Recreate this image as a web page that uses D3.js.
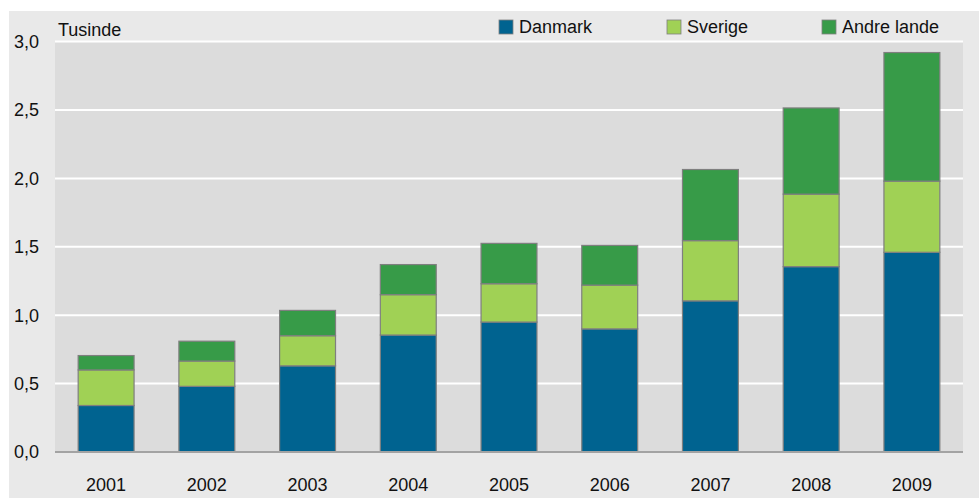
<!DOCTYPE html>
<html>
<head>
<meta charset="utf-8">
<script src="https://cdn.jsdelivr.net/npm/d3@7"></script>
<style>
  body { margin: 0; background: #fff; }
  text { font-family: "Liberation Sans", Arial, sans-serif; fill: #111; }
</style>
</head>
<body>
<svg width="979" height="498"></svg>
<script>
// data (tusinde)
var years = ['2001', '2002', '2003', '2004', '2005', '2006', '2007', '2008', '2009'];
var danmark = [0.34, 0.48, 0.63, 0.855, 0.95, 0.90, 1.105, 1.355, 1.46];
var sverige = [0.26, 0.185, 0.22, 0.295, 0.28, 0.32, 0.44, 0.53, 0.52];
var andre = [0.105, 0.145, 0.185, 0.22, 0.295, 0.29, 0.52, 0.63, 0.94];
var seriesNames = ['Danmark', 'Sverige', 'Andre lande'];
var colors = ['#006390', '#a0d155', '#379b48'];
var yTicks = [0, 0.5, 1, 1.5, 2, 2.5, 3];

function main() {
	var svg = d3.select('svg');

	var left = 55, right = 963, top = 41.6, bottom = 452;

	// outer panel
	svg.append('rect')
		.attr('x', 9).attr('y', 11)
		.attr('width', 970).attr('height', 487)
		.attr('fill', '#e9e9e9');

	// plot panel
	svg.append('rect')
		.attr('x', left).attr('y', top)
		.attr('width', right - left).attr('height', bottom - top)
		.attr('fill', '#dcdcdc');

	var x = d3.scaleBand().domain(years).range([left, right]).paddingInner(0.445).paddingOuter(0.23);
	var y = d3.scaleLinear().domain([0, 3]).range([bottom, top]);

	// gridlines
	svg.append('g').selectAll('line')
		.data(yTicks.filter(function(d){ return d > 0; }))
		.enter().append('line')
		.attr('x1', left).attr('x2', right)
		.attr('y1', function(d){ return y(d); })
		.attr('y2', function(d){ return y(d); })
		.attr('stroke', '#fff')
		.attr('stroke-width', 2);

	// y labels
	svg.append('g').selectAll('text')
		.data(yTicks)
		.enter().append('text')
		.attr('x', 39)
		.attr('y', function(d){ return y(d); })
		.attr('dy', '0.36em')
		.attr('text-anchor', 'end')
		.style('font-size', '18px')
		.text(function(d){ return d3.format('.1f')(d).replace('.', ','); });

	// stacked bars
	var rows = years.map(function(yr, i){
		return { year: yr, Danmark: danmark[i], Sverige: sverige[i], 'Andre lande': andre[i] };
	});
	var stack = d3.stack().keys(seriesNames)(rows);

	svg.append('g').selectAll('g')
		.data(stack)
		.enter().append('g')
		.attr('fill', function(d, i){ return colors[i]; })
		.selectAll('rect')
		.data(function(d){ return d; })
		.enter().append('rect')
		.attr('x', function(d){ return x(d.data.year); })
		.attr('width', x.bandwidth())
		.attr('y', function(d){ return y(d[1]); })
		.attr('height', function(d){ return y(d[0]) - y(d[1]); })
		.attr('stroke', '#7f7f7f')
		.attr('stroke-width', 1.2);

	// baseline
	svg.append('line')
		.attr('x1', left).attr('x2', right)
		.attr('y1', bottom).attr('y2', bottom)
		.attr('stroke', '#a3a3a3')
		.attr('stroke-width', 2);

	// x labels
	svg.append('g').selectAll('text')
		.data(years)
		.enter().append('text')
		.attr('x', function(d){ return x(d) + x.bandwidth() / 2; })
		.attr('y', 491)
		.attr('text-anchor', 'middle')
		.style('font-size', '18px')
		.text(function(d){ return d; });

	// unit label
	svg.append('text')
		.attr('x', 58).attr('y', 36)
		.style('font-size', '18px')
		.text('Tusinde');

	// legend
	var legX = [499, 667, 822];
	var leg = svg.append('g').selectAll('g')
		.data(seriesNames)
		.enter().append('g')
		.attr('transform', function(d, i){ return 'translate(' + legX[i] + ',20)'; });
	leg.append('rect')
		.attr('width', 14).attr('height', 14)
		.attr('fill', function(d, i){ return colors[i]; })
		.attr('stroke', '#7f7f7f')
		.attr('stroke-width', 0.8);
	leg.append('text')
		.attr('x', 20).attr('y', 13)
		.style('font-size', '18px')
		.text(function(d){ return d; });
}
main();
</script>
</body>
</html>
